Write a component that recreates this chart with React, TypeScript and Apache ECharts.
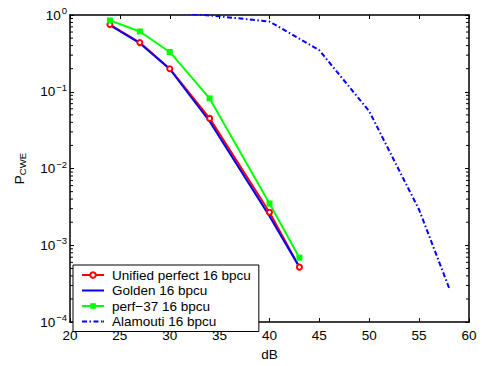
import React, { useEffect, useRef } from "react";
import * as echarts from "echarts";

const xCommon = [24, 27, 30, 34, 40, 43];
const unifiedY = [0.75, 0.437, 0.2, 0.045, 0.0027, 0.00052];
const goldenY = [0.74, 0.43, 0.198, 0.041, 0.0024, 0.00052];
const perfY = [0.85, 0.61, 0.33, 0.082, 0.0035, 0.00069];
const alamoutiX = [30, 35, 40, 45, 50, 55, 58];
const alamoutiY = [1.1, 0.96, 0.82, 0.347, 0.0557, 0.0029, 0.00028];
const xTicks = [20, 25, 30, 35, 40, 45, 50, 55, 60];
const decades = [-4, -3, -2, -1, 0];
const names = ["Unified perfect 16 bpcu", "Golden 16 bpcu", "perf\u221237 16 bpcu", "Alamouti 16 bpcu"];

const minorTicks: number[] = [];
for (let k = -4; k < 0; k++) for (let m = 2; m <= 9; m++) minorTicks.push(m * Math.pow(10, k));

const FONT = "Liberation Sans";
const FS = 13.5;
const W = 482;
const H = 366;

const solidIcon = "path://M0,0L22,0L22,2L0,2Z";
const dashDotIcon = "path://M0,0L5,0L5,2L0,2ZM7.5,0L9,0L9,2L7.5,2ZM11.5,0L16.5,0L16.5,2L11.5,2ZM19,0L20.5,0L20.5,2L19,2ZM21,0L22,0L22,2L21,2Z";

export default function App() {
  const ref = useRef<HTMLDivElement>(null);
  useEffect(() => {
    if (!ref.current) return;
    const chart = echarts.init(ref.current, undefined, { renderer: "svg", width: W, height: H });
    const pair = (xs: number[], ys: number[]) => xs.map((x, i) => [x, ys[i]]);
    const yFmt = (v: number) => {
      const e = Math.round(Math.log10(v));
      return "{b|10}{s|" + (e < 0 ? "\u2212" + -e : String(e)) + "}";
    };
    const richY = {
      b: { fontSize: FS, fontFamily: FONT, color: "#000" },
      s: { fontSize: 9.5, fontFamily: FONT, color: "#000", padding: [0, 0, 9, 1] },
    };
    const axisLine = { show: true, lineStyle: { color: "#000", width: 1.5 } };
    const axisTick = { show: true, inside: true, length: 4, lineStyle: { color: "#000" } };
    chart.setOption({
      animation: false,
      textStyle: { fontFamily: FONT },
      grid: { left: 70, right: 13, top: 15, bottom: 32, containLabel: false },
      xAxis: [
        {
          type: "value",
          min: xTicks[0],
          max: xTicks[xTicks.length - 1],
          interval: 5,
          name: "dB",
          nameLocation: "middle",
          nameGap: 21,
          nameTextStyle: { color: "#000", fontSize: FS, fontFamily: FONT },
          axisLine,
          axisTick,
          axisLabel: { color: "#000", fontSize: FS, fontFamily: FONT, margin: 6 },
          splitLine: { show: false },
        },
        {
          type: "value",
          position: "top",
          min: xTicks[0],
          max: xTicks[xTicks.length - 1],
          interval: 5,
          axisLine,
          axisTick,
          axisLabel: { show: false },
          splitLine: { show: false },
        },
      ],
      yAxis: [
        {
          type: "log",
          logBase: 10,
          min: Math.pow(10, decades[0]),
          max: Math.pow(10, decades[decades.length - 1]),
          name: "{p|P}{s|CWE}",
          nameLocation: "middle",
          nameGap: 43,
          nameRotate: 90,
          nameTextStyle: {
            rich: {
              p: { fontSize: FS, fontFamily: FONT, color: "#000" },
              s: { fontSize: 9.5, fontFamily: FONT, color: "#000", padding: [5, 0, 0, 0] },
            },
          },
          axisLine,
          axisTick,
          axisLabel: { formatter: yFmt, rich: richY, margin: 3 },
          splitLine: { show: false },
        },
        {
          type: "log",
          logBase: 10,
          position: "right",
          min: Math.pow(10, decades[0]),
          max: Math.pow(10, decades[decades.length - 1]),
          axisLine,
          axisTick,
          axisLabel: { show: false },
          splitLine: { show: false },
        },
      ],
      legend: {
        data: [
          { name: names[0] },
          { name: names[1], icon: solidIcon },
          { name: names[2] },
          { name: names[3], icon: dashDotIcon },
        ],
        orient: "vertical",
        left: 73,
        top: 265,
        backgroundColor: "#fff",
        borderColor: "#000",
        borderWidth: 1,
        borderRadius: 0,
        padding: [3, 8, 3, 8],
        itemWidth: 22,
        itemHeight: 7,
        itemGap: 1.5,
        textStyle: { color: "#000", fontSize: FS, fontFamily: FONT, padding: [0, 0, 0, 3], lineHeight: 14 },
      },
      series: [
        {
          name: names[0],
          type: "line",
          data: pair(xCommon, unifiedY),
          symbol: "emptyCircle",
          symbolSize: 5,
          itemStyle: { color: "#ff0000", borderWidth: 1.5 },
          lineStyle: { color: "#ff0000", width: 2 },
        },
        {
          name: names[1],
          type: "line",
          data: pair(xCommon, goldenY),
          symbol: "none",
          itemStyle: { color: "#0000ff" },
          lineStyle: { color: "#0000ff", width: 2 },
        },
        {
          name: names[2],
          type: "line",
          data: pair(xCommon, perfY),
          symbol: "rect",
          symbolSize: 6,
          itemStyle: { color: "#00ff00" },
          lineStyle: { color: "#00ff00", width: 2 },
        },
        {
          name: names[3],
          type: "line",
          data: pair(alamoutiX, alamoutiY),
          symbol: "none",
          itemStyle: { color: "#0000ff" },
          lineStyle: { color: "#0000ff", width: 2, type: [5, 2.5, 1.5, 2.5] },
        },
        {
          name: "minor",
          type: "custom",
          silent: true,
          data: minorTicks.map((v) => [v]),
          renderItem: (params: any, api: any) => {
            const v = api.value(0);
            const l = api.coord([xTicks[0], v]);
            const r = api.coord([xTicks[xTicks.length - 1], v]);
            const st = { stroke: "#000", lineWidth: 1 };
            return {
              type: "group",
              children: [
                { type: "line", shape: { x1: l[0], y1: l[1], x2: l[0] + 3, y2: l[1] }, style: st },
                { type: "line", shape: { x1: r[0] - 3, y1: r[1], x2: r[0], y2: r[1] }, style: st },
              ],
            };
          },
          z: 1,
        },
      ],
    });
    return () => chart.dispose();
  }, []);
  return <div ref={ref} style={{ width: W, height: H, position: "absolute", left: 0, top: 0 }} />;
}
